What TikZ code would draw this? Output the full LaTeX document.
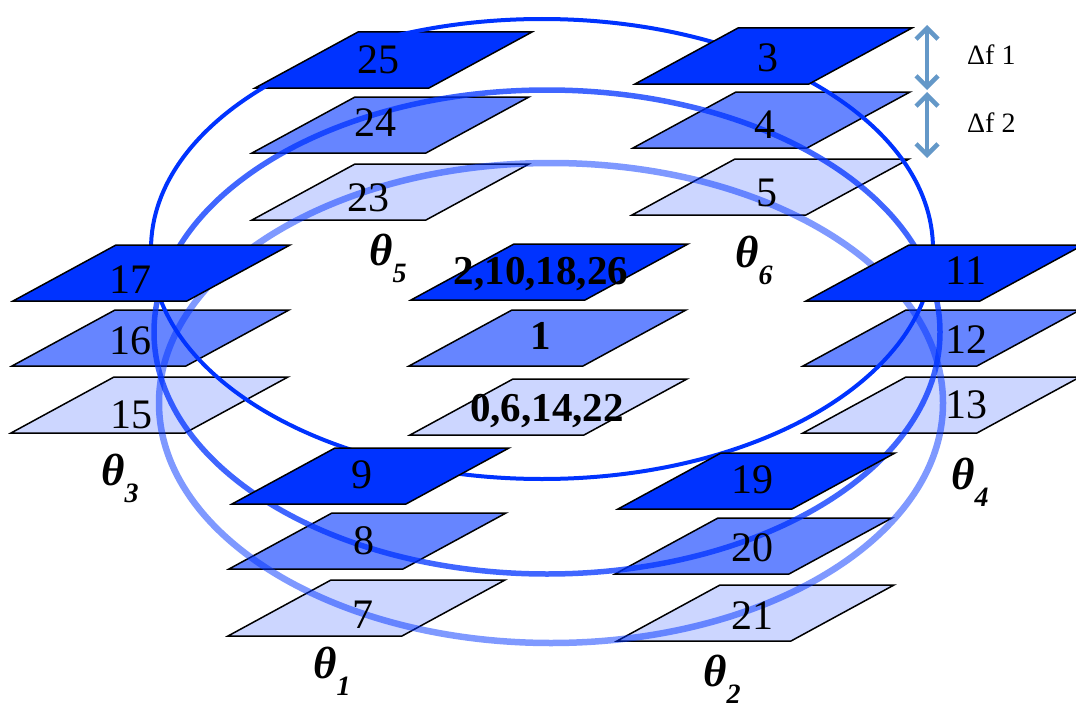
\documentclass[tikz,border=0pt]{standalone}
\usepackage{fontspec}
\setmainfont{Liberation Serif}
\usetikzlibrary{arrows.meta}
\definecolor{bluedark}{RGB}{0,51,255}
\definecolor{bluemid}{RGB}{102,133,255}
\definecolor{bluelight}{RGB}{204,214,255}
\definecolor{arrowblue}{RGB}{100,152,200}
\tikzstyle{darkplane} = [draw=black, line width=1.5pt, fill=bluedark]
\tikzstyle{midplane} = [draw=black, line width=1.5pt, fill=bluemid]
\tikzstyle{lightplane} = [draw=black, line width=1.5pt, fill=bluelight]
\tikzstyle{ringtop} = [draw=bluedark, line width=4pt]
\tikzstyle{ringmid} = [draw=bluedark, draw opacity=0.75, line width=5.5pt]
\tikzstyle{ringlow} = [draw=bluedark, draw opacity=0.5, line width=6.5pt]
\tikzstyle{num} = [anchor=base, inner sep=0pt, font=\fontsize{42}{42}\selectfont]
\tikzstyle{bignum} = [anchor=base, inner sep=0pt, font=\fontsize{41}{41}\selectfont\bfseries]
\tikzstyle{thetalabel} = [anchor=base west, inner sep=0pt, font=\fontsize{45}{45}\selectfont\bfseries\itshape]
\tikzstyle{flabel} = [anchor=base west, inner sep=0pt, font=\fontsize{28}{28}\selectfont]
\tikzstyle{farrow} = [line width=4.5pt, draw=arrowblue, arrows={Straight Barb[length=11pt,width=22pt]-Straight Barb[length=11pt,width=22pt]}]
\newcommand{\sub}[1]{\raisebox{-17pt}{\fontsize{28}{28}\selectfont #1}}

\begin{document}
\begin{tikzpicture}[x=1pt, y=-1pt]
\useasboundingbox (0,0) rectangle (1076,709);

% lower planes, under the rings
\draw [darkplane] (255,88) -- ++(174,0) -- ++(103,-56) -- ++(-174,0) -- cycle;
\draw [midplane] (252,153) -- ++(174,0) -- ++(103,-56) -- ++(-174,0) -- cycle;
\draw [lightplane] (252,220) -- ++(174,0) -- ++(103,-56) -- ++(-174,0) -- cycle;
\draw [midplane] (633,148) -- ++(174,0) -- ++(103,-56) -- ++(-174,0) -- cycle;
\draw [lightplane] (632,215) -- ++(174,0) -- ++(103,-56) -- ++(-174,0) -- cycle;
\draw [midplane] (12,366) -- ++(174,0) -- ++(103,-56) -- ++(-174,0) -- cycle;
\draw [lightplane] (11,433) -- ++(174,0) -- ++(103,-56) -- ++(-174,0) -- cycle;
\draw [midplane] (803,366) -- ++(174,0) -- ++(103,-56) -- ++(-174,0) -- cycle;
\draw [lightplane] (803,433) -- ++(174,0) -- ++(103,-56) -- ++(-174,0) -- cycle;
\draw [midplane] (229,569) -- ++(174,0) -- ++(103,-56) -- ++(-174,0) -- cycle;
\draw [lightplane] (228,636) -- ++(174,0) -- ++(103,-56) -- ++(-174,0) -- cycle;
\draw [midplane] (615,574) -- ++(174,0) -- ++(103,-56) -- ++(-174,0) -- cycle;
\draw [lightplane] (617,641) -- ++(174,0) -- ++(103,-56) -- ++(-174,0) -- cycle;
\draw [midplane] (409,366) -- ++(174,0) -- ++(103,-56) -- ++(-174,0) -- cycle;
\draw [lightplane] (410,435) -- ++(174,0) -- ++(103,-56) -- ++(-174,0) -- cycle;

% rings
\draw [ringlow] (551,403) ellipse [x radius=392, y radius=240];
\draw [ringmid] (547,332) ellipse [x radius=393, y radius=242];
\draw [ringtop] (542,249) ellipse [x radius=391, y radius=230];

% upper planes, over the rings
\draw [darkplane] (635,84) -- ++(174,0) -- ++(103,-56) -- ++(-174,0) -- cycle;
\draw [darkplane] (13,301) -- ++(174,0) -- ++(103,-56) -- ++(-174,0) -- cycle;
\draw [darkplane] (806,301) -- ++(174,0) -- ++(103,-56) -- ++(-174,0) -- cycle;
\draw [darkplane] (232,504) -- ++(174,0) -- ++(103,-56) -- ++(-174,0) -- cycle;
\draw [darkplane] (618,509) -- ++(174,0) -- ++(103,-56) -- ++(-174,0) -- cycle;
\draw [darkplane] (411,300) -- ++(174,0) -- ++(103,-56) -- ++(-174,0) -- cycle;

% numbers
\node (n25) [num] at (378,74) {25};
\node (n24) [num] at (375,136) {24};
\node (n23) [num] at (368,211) {23};
\node (n3) [num] at (768,71) {3};
\node (n4) [num] at (765,138) {4};
\node (n5) [num] at (767,206) {5};
\node (n17) [num] at (130,293) {17};
\node (n16) [num] at (130,354) {16};
\node (n15) [num] at (131,428) {15};
\node (n11) [num] at (966,284) {11};
\node (n12) [num] at (966,353) {12};
\node (n13) [num] at (966,418) {13};
\node (n9) [num] at (362,488) {9};
\node (n8) [num] at (364,554) {8};
\node (n7) [num] at (363,628) {7};
\node (n19) [num] at (752,493) {19};
\node (n20) [num] at (752,561) {20};
\node (n21) [num] at (752,629) {21};
\node (ctop) [bignum] at (541,284) {2,10,18,26};
\node (cmid) [bignum] at (541,349) {1};
\node (cbot) [bignum] at (547,421) {0,6,14,22};

% angles
\node (th1) [thetalabel] at (313,678) {θ\sub{1}};
\node (th2) [thetalabel] at (703,686) {θ\sub{2}};
\node (th3) [thetalabel] at (101,485) {θ\sub{3}};
\node (th4) [thetalabel] at (951,489) {θ\sub{4}};
\node (th5) [thetalabel] at (369,265) {θ\sub{5}};
\node (th6) [thetalabel] at (735,267) {θ\sub{6}};

% frequency steps
\coordinate (f1top) at (927,25);
\coordinate (f1bot) at (927,90);
\coordinate (f2top) at (927,92);
\coordinate (f2bot) at (927,158);
\draw [farrow] (f1top) -- (f1bot);
\draw [farrow] (f2top) -- (f2bot);
\node (df1) [flabel] at (967,65) {Δf 1};
\node (df2) [flabel] at (967,132) {Δf 2};

\end{tikzpicture}
\end{document}
